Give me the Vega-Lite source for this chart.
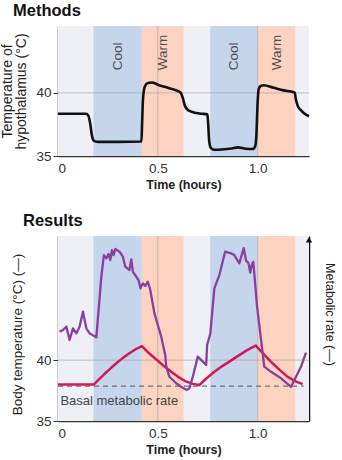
{
  "$schema": "https://vega.github.io/schema/vega-lite/v6.json",
  "background": "white",
  "padding": {"left": 0, "top": 3, "right": 2, "bottom": 2},
  "spacing": 22,
  "config": {
    "font": "Liberation Sans",
    "view": {"stroke": null},
    "axis": {"labelFont": "Liberation Sans", "titleFont": "Liberation Sans", "labelFontSize": 13.5, "titleFontSize": 13.5, "labelColor": "#333333", "titleColor": "#222222", "domainColor": "#333333", "tickColor": "#333333", "domainWidth": 1.5, "grid": false, "titleFontWeight": "normal"},
    "title": {"anchor": "start", "fontSize": 16.5, "fontWeight": "bold", "color": "#111111", "font": "Liberation Sans"}
  },
  "datasets": {
    "bands": [
      {"start": 0, "end": 0.177, "phase": "Neutral"},
      {"start": 0.177, "end": 0.42, "phase": "Cool"},
      {"start": 0.42, "end": 0.63, "phase": "Warm"},
      {"start": 0.63, "end": 0.762, "phase": "Neutral"},
      {"start": 0.762, "end": 1.0, "phase": "Cool"},
      {"start": 1.0, "end": 1.19, "phase": "Warm"},
      {"start": 1.19, "end": 1.257, "phase": "Neutral"}
    ],
    "hypo": [
      {"t": 0, "temp": 38.35}, {"t": 0.14, "temp": 38.35}, {"t": 0.152, "temp": 38.2}, {"t": 0.162, "temp": 37.5}, {"t": 0.17, "temp": 36.6}, {"t": 0.18, "temp": 36.2}, {"t": 0.2, "temp": 36.12}, {"t": 0.3, "temp": 36.12}, {"t": 0.418, "temp": 36.15}, {"t": 0.421, "temp": 37.5}, {"t": 0.426, "temp": 39.6}, {"t": 0.435, "temp": 40.5}, {"t": 0.45, "temp": 40.78}, {"t": 0.47, "temp": 40.82}, {"t": 0.5, "temp": 40.65}, {"t": 0.55, "temp": 40.4}, {"t": 0.6, "temp": 40.15}, {"t": 0.615, "temp": 40.0}, {"t": 0.625, "temp": 39.6}, {"t": 0.635, "temp": 39.0}, {"t": 0.65, "temp": 38.65}, {"t": 0.68, "temp": 38.45}, {"t": 0.72, "temp": 38.35}, {"t": 0.748, "temp": 38.3}, {"t": 0.752, "temp": 37.6}, {"t": 0.757, "temp": 36.2}, {"t": 0.765, "temp": 35.65}, {"t": 0.78, "temp": 35.5}, {"t": 0.82, "temp": 35.52}, {"t": 0.87, "temp": 35.6}, {"t": 0.9, "temp": 35.68}, {"t": 0.94, "temp": 35.58}, {"t": 0.975, "temp": 35.55}, {"t": 0.988, "temp": 35.8}, {"t": 0.994, "temp": 36.8}, {"t": 0.999, "temp": 39.0}, {"t": 1.005, "temp": 40.3}, {"t": 1.015, "temp": 40.55}, {"t": 1.03, "temp": 40.6}, {"t": 1.08, "temp": 40.4}, {"t": 1.13, "temp": 40.2}, {"t": 1.18, "temp": 40.05}, {"t": 1.186, "temp": 40.0}, {"t": 1.19, "temp": 39.6}, {"t": 1.2, "temp": 39.0}, {"t": 1.215, "temp": 38.65}, {"t": 1.235, "temp": 38.35}, {"t": 1.257, "temp": 38.15}
    ],
    "body": [
      {"t": 0, "temp": 38.0}, {"t": 0.18, "temp": 38.0}, {"t": 0.21, "temp": 38.5}, {"t": 0.235, "temp": 38.9}, {"t": 0.265, "temp": 39.35}, {"t": 0.3, "temp": 39.85}, {"t": 0.33, "temp": 40.25}, {"t": 0.365, "temp": 40.65}, {"t": 0.39, "temp": 40.9}, {"t": 0.42, "temp": 41.15},
      {"t": 0.45, "temp": 40.65}, {"t": 0.5, "temp": 39.95}, {"t": 0.535, "temp": 39.45}, {"t": 0.567, "temp": 39.04}, {"t": 0.6, "temp": 38.65}, {"t": 0.64, "temp": 38.25}, {"t": 0.675, "temp": 38.05}, {"t": 0.708, "temp": 37.95},
      {"t": 0.74, "temp": 38.45}, {"t": 0.78, "temp": 39.0}, {"t": 0.817, "temp": 39.45}, {"t": 0.86, "temp": 39.9}, {"t": 0.9, "temp": 40.33}, {"t": 0.945, "temp": 40.8}, {"t": 0.99, "temp": 41.2},
      {"t": 1.03, "temp": 40.5}, {"t": 1.067, "temp": 39.86}, {"t": 1.11, "temp": 39.2}, {"t": 1.15, "temp": 38.63}, {"t": 1.19, "temp": 38.25}, {"t": 1.225, "temp": 38.03}
    ],
    "metab": [
      {"t": 0.008, "rate": 48.3}, {"t": 0.025, "rate": 49.2}, {"t": 0.042, "rate": 51.0}, {"t": 0.058, "rate": 43.8}, {"t": 0.075, "rate": 50.1}, {"t": 0.092, "rate": 47.4}, {"t": 0.108, "rate": 51.0}, {"t": 0.125, "rate": 59.1}, {"t": 0.142, "rate": 50.1}, {"t": 0.158, "rate": 47.4}, {"t": 0.192, "rate": 45.2}, {"t": 0.217, "rate": 78.0}, {"t": 0.23, "rate": 89.7}, {"t": 0.242, "rate": 87.9}, {"t": 0.253, "rate": 90.3}, {"t": 0.262, "rate": 87.0}, {"t": 0.27, "rate": 92.4}, {"t": 0.278, "rate": 89.7}, {"t": 0.287, "rate": 93.0}, {"t": 0.308, "rate": 91.5}, {"t": 0.325, "rate": 88.8}, {"t": 0.337, "rate": 83.4}, {"t": 0.358, "rate": 81.6}, {"t": 0.367, "rate": 87.4}, {"t": 0.375, "rate": 80.7}, {"t": 0.403, "rate": 76.2}, {"t": 0.413, "rate": 71.7}, {"t": 0.425, "rate": 74.4}, {"t": 0.437, "rate": 73.0}, {"t": 0.45, "rate": 75.3}, {"t": 0.462, "rate": 70.8}, {"t": 0.483, "rate": 58.2}, {"t": 0.517, "rate": 45.6}, {"t": 0.537, "rate": 35.7}, {"t": 0.542, "rate": 29.4}, {"t": 0.558, "rate": 23.9}, {"t": 0.592, "rate": 20.4}, {"t": 0.617, "rate": 18.5}, {"t": 0.645, "rate": 16.8}, {"t": 0.658, "rate": 17.7}, {"t": 0.675, "rate": 23.9}, {"t": 0.7, "rate": 34.8}, {"t": 0.725, "rate": 32.1}, {"t": 0.742, "rate": 30.3}, {"t": 0.747, "rate": 41.1}, {"t": 0.763, "rate": 47.4}, {"t": 0.783, "rate": 71.7}, {"t": 0.808, "rate": 78.9}, {"t": 0.837, "rate": 91.5}, {"t": 0.867, "rate": 90.6}, {"t": 0.883, "rate": 89.7}, {"t": 0.908, "rate": 85.2}, {"t": 0.93, "rate": 93.4}, {"t": 0.942, "rate": 86.6}, {"t": 0.953, "rate": 85.6}, {"t": 0.963, "rate": 80.2}, {"t": 0.97, "rate": 84.3}, {"t": 0.978, "rate": 86.1}, {"t": 0.983, "rate": 79.8}, {"t": 0.997, "rate": 61.8}, {"t": 1.013, "rate": 47.4}, {"t": 1.033, "rate": 29.4}, {"t": 1.067, "rate": 26.6}, {"t": 1.117, "rate": 23.1}, {"t": 1.167, "rate": 18.5}, {"t": 1.192, "rate": 23.9}, {"t": 1.217, "rate": 29.4}, {"t": 1.242, "rate": 36.9}
    ],
    "vgrid": [{"v": 0.5}, {"v": 1.0}],
    "one": [{"k": 1}]
  },
  "vconcat": [
    {
      "title": {"text": "Methods", "dx": 12, "offset": 6},
      "width": 251,
      "height": 130,
      "layer": [
        {
          "data": {"name": "bands"},
          "mark": {"type": "rect"},
          "encoding": {
            "x": {"field": "start", "type": "quantitative", "scale": {"domain": [0, 1.257], "nice": false, "zero": false}, "axis": {"values": [0, 0.5, 1.0], "labelExpr": "datum.value == 0 ? '0' : format(datum.value, '.1f')", "ticks": false, "labelPadding": 5, "title": "Time (hours)", "titlePadding": 4, "titleFontWeight": "bold", "titleFontSize": 12.5}},
            "x2": {"field": "end"},
            "color": {"field": "phase", "type": "nominal", "scale": {"domain": ["Neutral", "Cool", "Warm"], "range": ["#eef0f5", "#c5d6ec", "#fcd3c0"]}, "legend": null}
          }
        },
        {
          "data": {"name": "vgrid"},
          "mark": {"type": "rule", "color": "#9a9a9a", "strokeWidth": 0.8, "opacity": 0.7},
          "encoding": {"x": {"field": "v", "type": "quantitative"}}
        },
        {
          "data": {"name": "one"},
          "mark": {"type": "rule", "color": "#9a9a9a", "strokeWidth": 0.8, "opacity": 0.7},
          "encoding": {"y": {"datum": 40, "type": "quantitative"}}
        },
        {
          "data": {"name": "bands"},
          "transform": [{"filter": "datum.phase != 'Neutral'"}, {"calculate": "(datum.start + datum.end) / 2", "as": "mid"}],
          "mark": {"type": "text", "angle": 270, "align": "left", "baseline": "middle", "fontSize": 13.5, "color": "#4d4d4d"},
          "encoding": {
            "x": {"field": "mid", "type": "quantitative"},
            "y": {"datum": 41.8, "type": "quantitative"},
            "text": {"field": "phase"}
          }
        },
        {
          "data": {"name": "hypo"},
          "mark": {"type": "line", "interpolate": "monotone", "color": "#111111", "strokeWidth": 2.6},
          "encoding": {
            "x": {"field": "t", "type": "quantitative"},
            "y": {"field": "temp", "type": "quantitative", "scale": {"domain": [35, 45.3], "nice": false, "zero": false}, "axis": {"values": [35, 40], "tickSize": 5, "labelPadding": 2, "title": ["Temperature of", "hypothalamus (°C)"], "titlePadding": 7, "titleLineHeight": 14, "titleFontSize": 14}}
          }
        }
      ]
    },
    {
      "title": {"text": "Results", "dx": 12, "offset": 6},
      "width": 251,
      "height": 185,
      "resolve": {"scale": {"y": "independent"}},
      "layer": [
        {
          "layer": [
            {
              "data": {"name": "bands"},
              "mark": {"type": "rect"},
              "encoding": {
                "x": {"field": "start", "type": "quantitative", "scale": {"domain": [0, 1.257], "nice": false, "zero": false}, "axis": {"values": [0, 0.5, 1.0], "labelExpr": "datum.value == 0 ? '0' : format(datum.value, '.1f')", "ticks": false, "labelPadding": 5, "title": "Time (hours)", "titlePadding": 4, "titleFontWeight": "bold", "titleFontSize": 12.5}},
                "x2": {"field": "end"},
                "color": {"field": "phase", "type": "nominal", "scale": {"domain": ["Neutral", "Cool", "Warm"], "range": ["#eef0f5", "#c5d6ec", "#fcd3c0"]}, "legend": null}
              }
            },
            {
              "data": {"name": "vgrid"},
              "mark": {"type": "rule", "color": "#9a9a9a", "strokeWidth": 0.8, "opacity": 0.7},
              "encoding": {"x": {"field": "v", "type": "quantitative"}}
            },
            {
              "data": {"name": "one"},
              "mark": {"type": "rule", "color": "#9a9a9a", "strokeWidth": 0.8, "opacity": 0.7},
              "encoding": {"y": {"datum": 40, "type": "quantitative"}}
            },
            {
              "data": {"name": "one"},
              "mark": {"type": "rule", "color": "#6e6e6e", "strokeWidth": 1.2, "strokeDash": [5, 4]},
              "encoding": {"x": {"datum": 0, "type": "quantitative"}, "x2": {"datum": 1.23}, "y": {"datum": 37.87, "type": "quantitative"}}
            },
            {
              "data": {"name": "one"},
              "mark": {"type": "text", "align": "left", "baseline": "middle", "fontSize": 13, "color": "#444444", "text": "Basal metabolic rate"},
              "encoding": {"x": {"datum": 0.012, "type": "quantitative"}, "y": {"datum": 36.64, "type": "quantitative"}}
            },
            {
              "data": {"name": "body"},
              "mark": {"type": "line", "color": "#d11a55", "strokeWidth": 2.5, "strokeJoin": "round"},
              "encoding": {
                "x": {"field": "t", "type": "quantitative"},
                "y": {"field": "temp", "type": "quantitative", "scale": {"domain": [35, 50.2], "nice": false, "zero": false}, "axis": {"values": [35, 40], "tickSize": 5, "labelPadding": 2, "title": "Body temperature (°C) (—)", "titlePadding": 11, "titleY": 98}}
              }
            }
          ]
        },
        {
          "layer": [
            {
              "data": {"name": "metab"},
              "mark": {"type": "line", "color": "#8a3ea0", "strokeWidth": 2.3, "strokeJoin": "round"},
              "encoding": {
                "x": {"field": "t", "type": "quantitative"},
                "y": {"field": "rate", "type": "quantitative", "scale": {"domain": [0, 100], "nice": false, "zero": false}, "axis": {"orient": "right", "labels": false, "ticks": false, "domainColor": "#111111", "title": "Metabolic rate (—)", "titleFontSize": 12.5, "titlePadding": 13, "titleY": 78}}
              }
            },
            {
              "data": {"name": "one"},
              "mark": {"type": "point", "shape": "triangle-up", "filled": true, "color": "#111111", "size": 40, "opacity": 1},
              "encoding": {"x": {"datum": 1.257, "type": "quantitative"}, "y": {"datum": 98, "type": "quantitative"}}
            }
          ]
        }
      ]
    }
  ]
}
